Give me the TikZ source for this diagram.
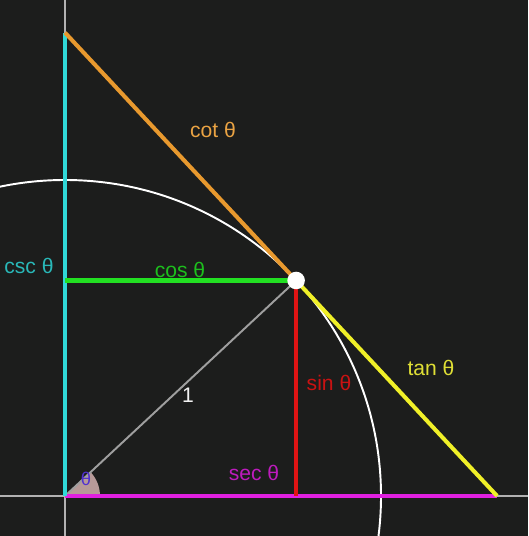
\documentclass[tikz,border=0pt]{standalone}
\usepackage{fontspec}
\setmainfont{Liberation Sans}
\usetikzlibrary{calc}
\definecolor{bg}{HTML}{1C1D1C}
\definecolor{cscc}{HTML}{30D8D8}
\definecolor{cosc}{HTML}{22E022}
\definecolor{sinc}{HTML}{E01414}
\definecolor{tanc}{HTML}{F0F028}
\definecolor{cotc}{HTML}{E8992E}
\definecolor{secc}{HTML}{E020E0}
\definecolor{wedgec}{HTML}{C8A8A6}
\definecolor{thetac}{HTML}{5030D0}

\begin{document}
\begin{tikzpicture}[x=0.02cm, y=0.02cm,
  trig/.style={line width=2.3pt},
  axis/.style={draw=gray!60!white, line width=1.1pt},
  lbl/.style={font=\fontsize{12}{14}\selectfont, inner sep=1pt},
  dot/.style={circle, fill=white, minimum size=10pt, inner sep=0pt}
]
\fill[bg] (-65,-40) rectangle (463,496);
\useasboundingbox (-65,-40) rectangle (463,496);
\clip (-65,-40) rectangle (463,496);

\coordinate (O) at (0,0);
\coordinate (P) at (43:316);
\coordinate (S) at (P |- O);
\coordinate (Q) at (O |- P);
\coordinate (T) at ({316/cos(43)},0);
\coordinate (C) at (0,{316/sin(43)});
\coordinate (xl) at (-65,0);
\coordinate (xr) at (463,0);
\coordinate (yb) at (0,-40);
\coordinate (yt) at (0,496);

% axes and unit circle
\draw[axis] (xl) -- (xr);
\draw[axis] (yb) -- (yt);
\draw[white, line width=1.1pt] (O) circle (316);

% angle
\fill[wedgec, opacity=0.9] (O) -- (35,0) arc (0:43:35) -- cycle;
\draw[gray!75!white, line width=1.1pt] (O) -- (P);

% trig segments
\draw[trig, secc] (O) -- (T);
\draw[trig, cscc] (O) -- (C);
\draw[trig, cosc] (Q) -- (P);
\draw[trig, sinc] (P) -- (S);
\draw[trig, tanc] (P) -- (T);
\draw[trig, cotc] (P) -- (C);
\node[dot] (p) at (P) {};

% labels
\node[lbl, text=cotc!90!white] (lcot) at (148,366) {cot θ};
\node[lbl, text=cosc!85!black] (lcos) at (115,226) {cos θ};
\node[lbl, text=cscc!85!black] (lcsc) at (-36,230) {csc θ};
\node[lbl, text=white!90!gray] (lone) at (123,101) {1};
\node[lbl, text=sinc!90!black] (lsin) at (264,113) {sin θ};
\node[lbl, text=tanc!85!gray] (ltan) at (366,128) {tan θ};
\node[lbl, text=secc!85!black] (lsec) at (189,23) {sec θ};
\node[lbl, font=\fontsize{10.5}{12}\selectfont, text=thetac] (lth) at (21,17) {θ};
\end{tikzpicture}
\end{document}
